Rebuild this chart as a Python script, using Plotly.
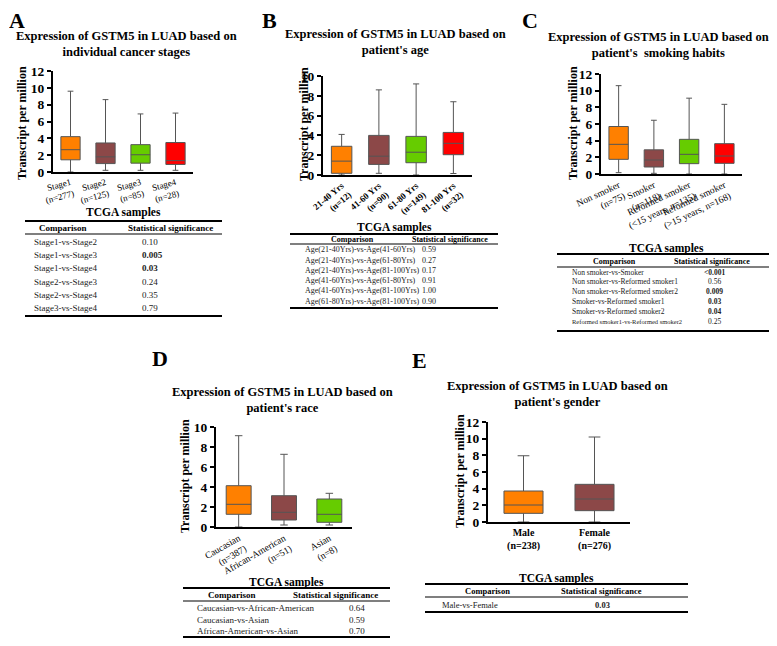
import plotly.graph_objects as go

W, H = 777, 646          # browser window
OFF = 8                  # page body keeps an 8px margin round the figure
FW, FH = W - 2 * OFF, H - 2 * OFF
FONT = 'Liberation Serif'

ORANGE = '#FF8000'
BROWN = '#8C4848'
GREEN = '#66CC00'
RED = '#FF0000'

# A  cancer stages
stage_cats = ['Stage1<br>(n=277)', 'Stage2<br>(n=125)', 'Stage3<br>(n=85)', 'Stage4<br>(n=28)']
stage_lo = [0.0, 0.2, 0.2, 0.2]
stage_q1 = [1.45, 1.0, 1.05, 0.9]
stage_med = [2.65, 1.8, 2.05, 1.35]
stage_q3 = [4.2, 3.45, 3.25, 3.5]
stage_hi = [9.6, 8.6, 6.9, 7.0]
stage_cmp = ['Stage1-vs-Stage2', 'Stage1-vs-Stage3', 'Stage1-vs-Stage4',
             'Stage2-vs-Stage3', 'Stage2-vs-Stage4', 'Stage3-vs-Stage4']
stage_p = ['0.10', '0.005', '0.03', '0.24', '0.35', '0.79']

# B  age
age_cats = ['21-40 Yrs<br>(n=12)', '41-60 Yrs<br>(n=90)', '61-80 Yrs<br>(n=149)', '81-100 Yrs<br>(n=32)']
age_lo = [0.0, 0.17, 0.0, 0.15]
age_q1 = [0.17, 1.07, 1.24, 2.05]
age_med = [1.4, 1.9, 2.3, 3.2]
age_q3 = [2.9, 4.0, 3.9, 4.3]
age_hi = [4.1, 8.6, 9.2, 7.4]
age_cmp = ['Age(21-40Yrs)-vs-Age(41-60Yrs)', 'Age(21-40Yrs)-vs-Age(61-80Yrs)',
           'Age(21-40Yrs)-vs-Age(81-100Yrs)', 'Age(41-60Yrs)-vs-Age(61-80Yrs)',
           'Age(41-60Yrs)-vs-Age(81-100Yrs)', 'Age(61-80Yrs)-vs-Age(81-100Yrs)']
age_p = ['0.59', '0.27', '0.17', '0.91', '1.00', '0.90']

# C  smoking habits
smk_cats = ['Non smoker<br>(n=75)', 'Smoker<br>(n=118)',
            'Reformed smoker<br>(<15 years, n=135)', 'Reformed smoker<br>(>15 years, n=168)']
smk_lo = [0.16, 0.08, 0.0, 0.0]
smk_q1 = [1.76, 0.84, 1.24, 1.28]
smk_med = [3.56, 1.68, 2.36, 2.16]
smk_q3 = [5.7, 2.9, 4.16, 3.64]
smk_hi = [10.6, 6.45, 9.1, 8.36]
smk_cmp = ['Non smoker-vs-Smoker', 'Non smoker-vs-Reformed smoker1', 'Non smoker-vs-Reformed smoker2',
           'Smoker-vs-Reformed smoker1', 'Smoker-vs-Reformed smoker2', 'Reformed smoker1-vs-Reformed smoker2']
smk_p = ['<0.001', '0.56', '0.009', '0.03', '0.04', '0.25']

# D  race
race_cats = ['Caucasian<br>(n=387)', 'African-American<br>(n=51)', 'Asian<br>(n=8)']
race_lo = [0.0, 0.2, 0.2]
race_q1 = [1.27, 0.7, 0.47]
race_med = [2.27, 1.47, 1.27]
race_q3 = [4.13, 3.13, 2.8]
race_hi = [9.13, 7.27, 3.37]
race_cmp = ['Caucasian-vs-African-American', 'Caucasian-vs-Asian', 'African-American-vs-Asian']
race_p = ['0.64', '0.59', '0.70']

# E  gender
sex_cats = ['Male<br>(n=238)', 'Female<br>(n=276)']
sex_lo = [0.0, 0.0]
sex_q1 = [1.04, 1.36]
sex_med = [2.04, 2.76]
sex_q3 = [3.72, 4.52]
sex_hi = [7.95, 10.2]
sex_cmp = ['Male-vs-Female']
sex_p = ['0.03']


#pixel on the page -> paper fraction
def fx(p):
    return (p - OFF) / FW


def fy(p):
    return 1 - (p - OFF) / FH


fig = go.Figure()
ann = []
shp = []


def note(x, y, text, size, xanchor='center', angle=0, color='black', **kw):
    ann.append(dict(x=fx(x), y=fy(y), xref='paper', yref='paper', text=text, showarrow=False,
                    xanchor=xanchor, yanchor='middle', textangle=angle,
                    font=dict(family=FONT, size=size, color=color), **kw))


#box plot panels (pixel positions of plot areas)
panels = [
    dict(letter='A', lx=7, ly=20, title="Expression of GSTM5 in LUAD based on<br>individual cancer stages", tx=126, ty=44,
         cats=stage_cats, lo=stage_lo, q1=stage_q1, med=stage_med, q3=stage_q3, hi=stage_hi,
         colors=[ORANGE, BROWN, GREEN, RED], dx=(53, 193), dy=(71, 172), ymax=12,
         angle=-15, tbold='normal', tfs=9, ytx=22, yty=123),
    dict(letter='B', lx=260, ly=20, title="Expression of GSTM5 in LUAD based on<br>patient's age", tx=395, ty=42,
         cats=age_cats, lo=age_lo, q1=age_q1, med=age_med, q3=age_q3, hi=age_hi,
         colors=[ORANGE, BROWN, GREEN, RED], dx=(323, 472), dy=(76, 175), ymax=10,
         angle=-40, tbold='bold', tfs=9, ytx=304, yty=124),
    dict(letter='C', lx=520, ly=20, title="Expression of GSTM5 in LUAD based on<br>patient's  smoking habits", tx=658, ty=45,
         cats=smk_cats, lo=smk_lo, q1=smk_q1, med=smk_med, q3=smk_q3, hi=smk_hi,
         colors=[ORANGE, BROWN, GREEN, RED], dx=(601, 742), dy=(74, 174), ymax=12,
         angle=-25, tbold='normal', tfs=9.5, ytx=573, yty=123),
    dict(letter='D', lx=150, ly=358, title="Expression of GSTM5 in LUAD based on<br>patient's race", tx=282, ty=400,
         cats=race_cats, lo=race_lo, q1=race_q1, med=race_med, q3=race_q3, hi=race_hi,
         colors=[ORANGE, BROWN, GREEN], dx=(216, 352), dy=(427, 527), ymax=10,
         angle=-30, tbold='normal', tfs=9.5, ytx=185, yty=476),
    dict(letter='E', lx=410, ly=360, title="Expression of GSTM5 in LUAD based on<br>patient's gender", tx=557, ty=394,
         cats=sex_cats, lo=sex_lo, q1=sex_q1, med=sex_med, q3=sex_q3, hi=sex_hi,
         colors=[ORANGE, BROWN], dx=(488, 630), dy=(422, 522), ymax=12,
         angle=0, tbold='bold', tfs=10, ytx=460, yty=471),
]

for i, p in enumerate(panels, start=1):
    xa = 'x' if i == 1 else 'x%d' % i
    ya = 'y' if i == 1 else 'y%d' % i
    for j, lab in enumerate(p['cats']):
        fig.add_trace(go.Box(x=[lab], q1=[p['q1'][j]], median=[p['med'][j]], q3=[p['q3'][j]],
                             lowerfence=[p['lo'][j]], upperfence=[p['hi'][j]],
                             fillcolor=p['colors'][j], line=dict(color='#555555', width=1),
                             width=0.55, whiskerwidth=0.3, xaxis=xa, yaxis=ya,
                             showlegend=False, hoverinfo='skip'))
    n = len(p['cats'])
    fig.update_layout({
        ('xaxis' if i == 1 else 'xaxis%d' % i): dict(
            domain=[fx(p['dx'][0]), fx(p['dx'][1])], anchor=ya, type='category', automargin=False,
            categoryorder='array', categoryarray=p['cats'], range=[-0.5, n - 0.5],
            showline=True, linecolor='black', linewidth=2, ticks='', showgrid=False, zeroline=False,
            tickangle=p['angle'], tickfont=dict(family=FONT, size=p['tfs'], color='black', weight=p['tbold'])),
        ('yaxis' if i == 1 else 'yaxis%d' % i): dict(
            domain=[fy(p['dy'][1]), fy(p['dy'][0])], anchor=xa, range=[0, p['ymax']], dtick=2,
            automargin=False,
            showline=True, linecolor='black', linewidth=2, ticks='outside', ticklen=4, tickwidth=1.5,
            tickcolor='black', showgrid=False, zeroline=False,
            tickfont=dict(family=FONT, size=13.5, color='black', weight='bold')),
    })
    note(p['lx'], p['ly'], '<b>%s</b>' % p['letter'], 22, xanchor='left', height=20)
    note(p['tx'], p['ty'], '<b>%s</b>' % p['title'], 12.5)
    note(p['ytx'], p['yty'], '<b>Transcript per million</b>', 12, angle=-90)

#TCGA tables
tables = [
    dict(cmp=stage_cmp, p=stage_p, x0=25, x1=222, ty=213, top=221, hy=228, mid=234, r0=242, rh=13.2, bot=316,
         cx=32, px=140, pan='left', hcx=63, hpx=170, hfs=9, rfs=9),
    dict(cmp=age_cmp, p=age_p, x0=290, x1=498, ty=227, top=234, hy=239, mid=244, r0=250, rh=10.2, bot=308,
         cx=303, px=420, pan='left', hcx=352, hpx=450, hfs=8, rfs=8),
    dict(cmp=smk_cmp, p=smk_p, x0=557, x1=775, ty=248, top=254, hy=261, mid=267, r0=272, rh=9.8, bot=331,
         cx=570, px=714, pan='center', hcx=614, hpx=712, hfs=8, rfs=7.5),
    dict(cmp=race_cmp, p=race_p, x0=183, x1=390, ty=582, top=588, hy=595, mid=601, r0=608, rh=11.5, bot=637,
         cx=195, px=357, pan='center', hcx=232, hpx=335, hfs=9, rfs=9),
    dict(cmp=sex_cmp, p=sex_p, x0=425, x1=688, ty=578, top=584, hy=591, mid=597, r0=605, rh=10, bot=612,
         cx=440, px=602, pan='center', hcx=487, hpx=601, hfs=8.5, rfs=8.5),
]

for t in tables:
    note((t['x0'] + t['x1']) / 2, t['ty'], '<b>TCGA samples</b>', 11.5)
    note(t['hcx'], t['hy'], '<b>Comparison</b>', t['hfs'])
    note(t['hpx'], t['hy'], '<b>Statistical significance</b>', t['hfs'])
    for k, (c, pv) in enumerate(zip(t['cmp'], t['p'])):
        yy = t['r0'] + k * t['rh']
        fs = t['rfs'] if len(c) < 33 else t['rfs'] - 1
        sig = pv.startswith('<') or float(pv) < 0.05
        note(t['cx'], yy, c, fs, xanchor='left', color='#222')
        note(t['px'], yy, '<b>%s</b>' % pv if sig else pv, t['rfs'], xanchor=t['pan'], color='#222')
    for yl, lw in [(t['top'], 2), (t['mid'], 1.2), (t['bot'], 2)]:
        shp.append(dict(type='line', xref='paper', yref='paper', x0=fx(t['x0']), x1=fx(t['x1']),
                        y0=fy(yl), y1=fy(yl), line=dict(color='black', width=lw)))

fig.update_layout(width=FW, height=FH, margin=dict(l=0, r=0, t=0, b=0, pad=0), boxmode='overlay',
                  template='none',
                  plot_bgcolor='white', paper_bgcolor='white', annotations=ann, shapes=shp,
                  font=dict(family=FONT, color='black'))

fig.write_html("out.html")
